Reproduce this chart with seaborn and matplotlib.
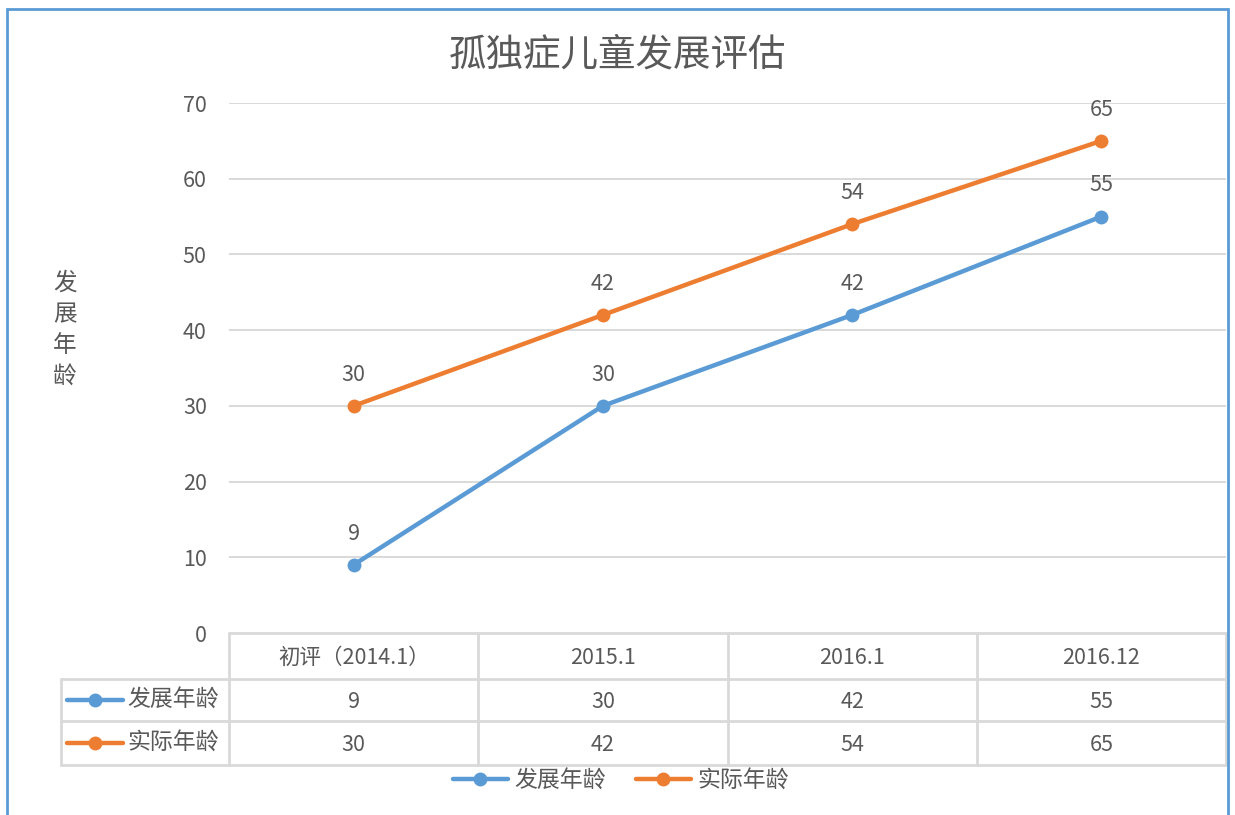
import numpy as np
import pandas as pd
import matplotlib
matplotlib.use("Agg")
import matplotlib.pyplot as plt
import matplotlib.transforms as mtransforms
from matplotlib.lines import Line2D
from matplotlib.patches import Rectangle
import seaborn as sns

# ---- data ----
categories = ["初评（2014.1）", "2015.1", "2016.1", "2016.12"]
series_names = ["发展年龄", "实际年龄"]
dev_age = [9, 30, 42, 55]
real_age = [30, 42, 54, 65]
colors = ["#5B9BD5", "#ED7D31"]
title = "孤独症儿童发展评估"
ylabel = "发展年龄"
yticks = [0, 10, 20, 30, 40, 50, 60, 70]

sns.set_theme(style="white")
plt.rcParams["font.family"] = ["Noto Sans CJK SC", "DejaVu Sans"]
TXT = "#595959"
GRID = "#D9D9D9"
NUM_FS = 15.5

W, H = 1235, 815
fig = plt.figure(figsize=(W / 100, H / 100), dpi=100)

def px(x0, y0, x1, y1):
    return [x0 / W, 1 - y1 / H, (x1 - x0) / W, (y1 - y0) / H]

ax = fig.add_axes(px(229, 103, 1226, 633))

pos = list(range(len(categories)))
df = pd.DataFrame({
    "pos": pos * 2,
    "value": dev_age + real_age,
    "series": [series_names[0]] * 4 + [series_names[1]] * 4,
})
sns.lineplot(data=df, x="pos", y="value", hue="series", hue_order=series_names,
             palette=colors, marker="o", markersize=10, markeredgewidth=0,
             linewidth=3.2, legend=False, ax=ax, zorder=3)

ax.set_xlim(-0.5, len(categories) - 0.5)
ax.set_ylim(0, 70)
ax.set_yticks(yticks)
ax.set_yticklabels([str(t) for t in yticks], fontsize=NUM_FS, color=TXT)
ax.tick_params(axis="y", length=0, pad=16)
ax.set_xticks([])
ax.set_xlabel("")
ax.set_ylabel("")
for s in ax.spines.values():
    s.set_visible(False)
for t in yticks[1:]:
    ax.axhline(t, color=GRID, lw=1.4, zorder=1)

# data labels
for vals in (dev_age, real_age):
    for i, v in enumerate(vals):
        ax.annotate(str(v), (i, v), xytext=(0, 22.5), textcoords="offset points",
                    ha="center", va="center", fontsize=NUM_FS, color=TXT)

# ---- data table ----
tr = mtransforms.blended_transform_factory(ax.transData, ax.transAxes)
ah = 530.0
def yax(ypix):
    return (633 - ypix) / ah
dpx = len(categories) / 997.0
xl = -0.5 - (229 - 61) * dpx
rows_y = [633, 679, 721, 765]
lkw = dict(color=GRID, lw=2, transform=tr, clip_on=False)
ax.plot([-0.5, len(categories) - 0.5], [0, 0], **lkw)
for yp in rows_y[1:]:
    ax.plot([xl, len(categories) - 0.5], [yax(yp)] * 2, **lkw)
for k in range(len(categories) + 1):
    ax.plot([k - 0.5] * 2, [0, yax(765)], **lkw)
ax.plot([xl] * 2, [yax(679), yax(765)], **lkw)

hy = yax((633 + 679) / 2 + 2)
for i, c in enumerate(categories):
    ax.text(i, hy, c, transform=tr, ha="center", va="center", fontsize=NUM_FS, color=TXT)
row_vals = [dev_age, real_age]
for r, (name, vals, col) in enumerate(zip(series_names, row_vals, colors)):
    ym = (rows_y[r + 1] + rows_y[r + 2]) / 2
    yc = yax(ym)
    yt = yax(ym + 2)
    for i, v in enumerate(vals):
        ax.text(i, yt, str(v), transform=tr, ha="center", va="center", fontsize=NUM_FS, color=TXT)
    x0 = xl + 6 * dpx
    x1 = xl + 62 * dpx
    ax.add_line(Line2D([x0, x1], [yc, yc], color=col, lw=3.2, transform=tr, clip_on=False))
    ax.add_line(Line2D([(x0 + x1) / 2], [yc], color=col, marker="o", markersize=10,
                       markeredgewidth=0, transform=tr, clip_on=False))
    ax.text(xl + 66 * dpx, yc, name, transform=tr, ha="left", va="center",
            fontsize=16.5, color=TXT)

# ---- legend ----
handles = [Line2D([0], [0], color=c, lw=3.2, marker="o", markersize=10, markeredgewidth=0)
           for c in colors]
fig.legend(handles, series_names, loc="center", bbox_to_anchor=(621 / W, 1 - 781 / H),
           ncol=2, frameon=False, fontsize=16.5, labelcolor=TXT, handlelength=2.4,
           handletextpad=0.3, columnspacing=1.3)

# ---- title, y label ----
fig.text(0.5, 1 - 55 / H, title, ha="center", va="center", fontsize=27, color=TXT,
         fontweight="light")
fig.text(65 / W, 1 - 330 / H, "\n".join(ylabel), ha="center", va="center",
         fontsize=17, color=TXT, linespacing=1.45)

# border
fig.patches.append(Rectangle((7 / W, -0.05), (1228 - 7) / W, 0.05 + 1 - 9 / H,
                             transform=fig.transFigure, fill=False,
                             edgecolor="#5B9BD5", lw=2, clip_on=False))

fig.savefig("out.png", dpi=100)
